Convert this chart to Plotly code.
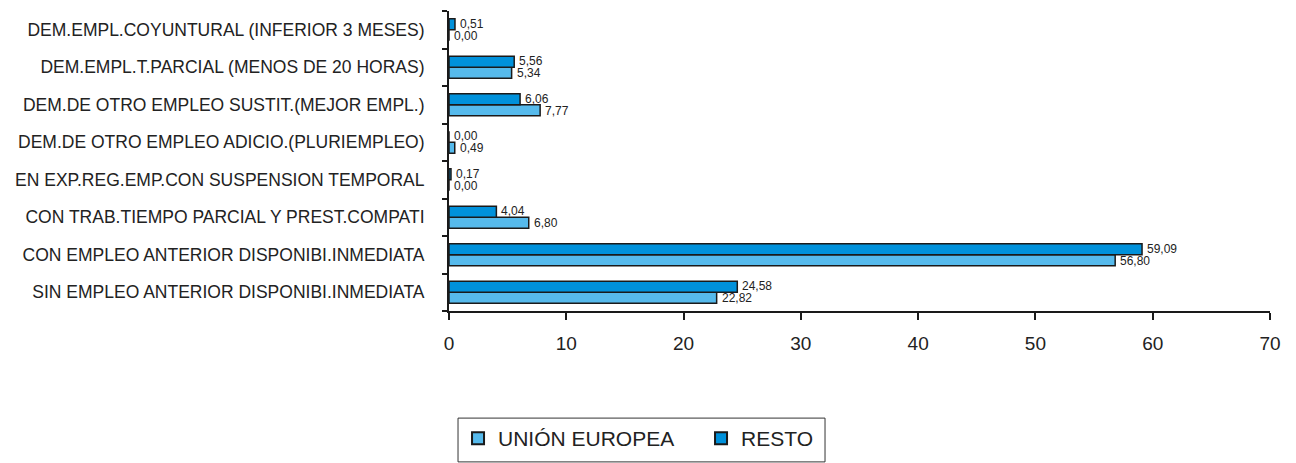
import plotly.graph_objects as go

# Categories listed bottom-to-top as they appear on the y axis
categorias = [
    "SIN EMPLEO ANTERIOR DISPONIBI.INMEDIATA",
    "CON EMPLEO ANTERIOR DISPONIBI.INMEDIATA",
    "CON TRAB.TIEMPO PARCIAL Y PREST.COMPATI",
    "EN EXP.REG.EMP.CON SUSPENSION TEMPORAL",
    "DEM.DE OTRO EMPLEO ADICIO.(PLURIEMPLEO)",
    "DEM.DE OTRO EMPLEO SUSTIT.(MEJOR EMPL.)",
    "DEM.EMPL.T.PARCIAL (MENOS DE 20 HORAS)",
    "DEM.EMPL.COYUNTURAL (INFERIOR 3 MESES)",
]
union_europea = [22.82, 56.80, 6.80, 0.00, 0.49, 7.77, 5.34, 0.00]
resto = [24.58, 59.09, 4.04, 0.17, 0.00, 6.06, 5.56, 0.51]
x_ticks = [0, 10, 20, 30, 40, 50, 60, 70]

FONT = "Liberation Sans, Arial, sans-serif"
COL_UE = "#56BAEC"
COL_RESTO = "#0091DB"

fig = go.Figure()
fig.add_trace(go.Bar(
    y=categorias, x=union_europea, orientation="h", name="UNIÓN EUROPEA",
    marker=dict(color=COL_UE, line=dict(color="#1a1a1a", width=1.5)),
))
fig.add_trace(go.Bar(
    y=categorias, x=resto, orientation="h", name="RESTO",
    marker=dict(color=COL_RESTO, line=dict(color="#1a1a1a", width=1.5)),
))

def fmt(v):
    return f"{v:.2f}".replace(".", ",")

# Value labels just right of each bar, RESTO above the centre, UE below
annotations = []
for cat, vu, vr in zip(categorias, union_europea, resto):
    annotations.append(dict(x=vr, y=cat, text=fmt(vr), showarrow=False,
                            xanchor="left", yanchor="middle", xshift=3, yshift=6,
                            font=dict(family=FONT, size=12, color="#222")))
    annotations.append(dict(x=vu, y=cat, text=fmt(vu), showarrow=False,
                            xanchor="left", yanchor="middle", xshift=3, yshift=-6,
                            font=dict(family=FONT, size=12, color="#222")))

# Frame around the legend entries (legend itself is drawn without a border)
legend_frame = dict(
    type="rect", xref="paper", yref="paper",
    x0=0.011, x1=0.458, y0=-0.503, y1=-0.357,
    line=dict(color="#333", width=1), fillcolor="rgba(0,0,0,0)", layer="below",
)

fig.update_layout(
    width=1296, height=463,
    margin=dict(l=449, r=26, t=11, b=152),
    plot_bgcolor="white", paper_bgcolor="white",
    barmode="group", bargap=0.41, bargroupgap=0,
    separators=",.",
    font=dict(family=FONT, color="#222"),
    annotations=annotations,
    shapes=[legend_frame],
    showlegend=True,
    legend=dict(
        orientation="h", x=0.011, xanchor="left",
        yref="container", y=0.097, yanchor="top",
        font=dict(family=FONT, size=21, color="#222"),
        borderwidth=0, bgcolor="rgba(0,0,0,0)",
        traceorder="normal", itemsizing="constant",
        entrywidth=198, entrywidthmode="pixels",
    ),
    xaxis=dict(
        range=[0, 70], tickvals=x_ticks, showgrid=False, zeroline=False,
        showline=True, linecolor="#1a1a1a", linewidth=2,
        ticks="outside", ticklen=7, tickwidth=2, tickcolor="#1a1a1a",
        tickfont=dict(family=FONT, size=19, color="#222"),
        ticklabelstandoff=7, automargin=False,
    ),
    yaxis=dict(
        type="category", categoryorder="array", categoryarray=categorias,
        showgrid=False, zeroline=False,
        showline=True, linecolor="#1a1a1a", linewidth=2,
        ticks="outside", ticklen=5, tickwidth=2, tickcolor="#1a1a1a",
        tickson="boundaries",
        tickfont=dict(family=FONT, size=17.5, color="#222"),
        ticklabelstandoff=19, automargin=False,
    ),
)

fig.write_html("out.html")
